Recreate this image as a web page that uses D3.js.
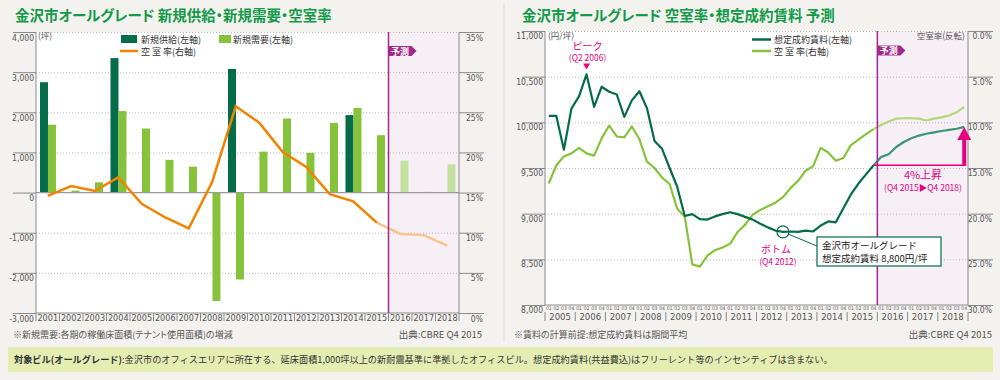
<!DOCTYPE html>
<html lang="ja">
<head>
<meta charset="utf-8">
<title>金沢市オールグレード</title>
<script src="https://cdn.jsdelivr.net/npm/d3@7"></script>
<style>
  html, body { margin: 0; padding: 0; background: #f3f2ef; }
  svg { display: block; font-family: "Noto Sans CJK JP", sans-serif; }
  .palt { font-feature-settings: "palt"; }
</style>
</head>
<body>
<svg id="chart" width="1000" height="380"></svg>
<script>
// ---- left chart: annual supply / demand / vacancy ----
const years = ['2001', '2002', '2003', '2004', '2005', '2006', '2007', '2008', '2009',
  '2010', '2011', '2012', '2013', '2014', '2015', '2016', '2017', '2018'];
const supply = [2750, 0, 0, 3350, 0, 0, 0, 0, 3080, 0, 0, 0, 0, 1930, 0, 0, 0, 0];
const demand = [1690, 50, 255, 2030, 1595, 815, 645, -2700, -2165, 1020, 1845, 990, 1735, 2110, 1430, 795, 20, 705];
const vacancy = [14.6, 15.8, 15.2, 16.9, 13.6, 11.9, 10.55, 16.35, 25.75, 23.7, 20.05, 18.2, 14.8, 13.9, 11.25, 9.85, 9.7, 8.4];
const forecastYear = '2016';
const areaTicks = [-3000, -2000, -1000, 0, 1000, 2000, 3000, 4000];
const pctTicks = [0, 5, 10, 15, 20, 25, 30, 35];

// ---- right chart: quarterly rent / vacancy ----
const qYears = ['2005', '2006', '2007', '2008', '2009', '2010', '2011', '2012', '2013',
  '2014', '2015', '2016', '2017', '2018'];
const quarters = ['01', '02', '03', '04'];
const rent = [
  10070, 10070, 9700, 10150,
  10285, 10525, 10170, 10390,
  10335, 10305, 10060, 10240,
  10340, 10155, 9795, 9710,
  9500, 9295, 8975, 8995,
  8940, 8935, 8970, 8995,
  9015, 8995, 8965, 8935,
  8890, 8850, 8815, 8800,
  8805, 8800, 8815, 8805,
  8870, 8915, 8905, 9060,
  9210, 9330, 9430, 9530,
  9620, 9650, 9730, 9785,
  9825, 9855, 9875, 9890,
  9905, 9918, 9930, 9950];
const vacancyQ = [
  16.7, 14.7, 13.75, 13.4,
  12.8, 13.4, 13.65, 11.75,
  10.35, 11.55, 11.65, 10.45,
  11.85, 14.3, 15.0, 16.05,
  16.75, 19.45, 20.3, 25.55,
  25.8, 24.6, 24.0, 23.7,
  23.3, 22.0, 21.2, 20.1,
  19.6, 19.2, 18.8, 18.2,
  17.2, 16.4, 15.3, 14.8,
  12.8, 13.3, 14.2, 13.9,
  12.5, 11.9, 11.3, 10.75,
  10.3, 9.9, 9.6, 9.55,
  9.55, 9.6, 9.8, 9.6,
  9.45, 9.25, 8.9, 8.3];
const rentTicks = [8000, 8500, 9000, 9500, 10000, 10500, 11000];
const vacTicks = [0, 5, 10, 15, 20, 25, 30];
const forecastQ = '2016Q01';
const peakQ = '2006Q02';
const bottomQ = '2012Q04';
const riseFrom = '2015Q04';
const riseTo = '2018Q04';

const NUM_FONT = '"Liberation Sans Narrow", "DejaVu Sans Condensed", sans-serif';
const GREEN_TITLE = '#139a49';
const DARK = '#046c48';
const LIGHT = '#86c33a';
const ORANGE = '#f08300';
const PURPLE = '#a2288d';
const PINK = '#e4007f';
const GRID = '#b9b9b9';
const AXIS = '#8a8a8a';
const LABEL = '#555';

const fmt = d3.formatLocale({ decimal: '.', thousands: ',', grouping: [3], currency: ['', ''], minus: '-' });
const fmtInt = fmt.format(',');

const svg = d3.select('#chart');

function styleAxis(g, dy) {
  g.attr('font-family', NUM_FONT).attr('font-size', 8.5);
  g.select('.domain').remove();
  g.selectAll('.tick line').attr('stroke', AXIS);
  g.selectAll('.tick text').attr('fill', LABEL).attr('dy', dy);
}

function forecastTag(x0, y0) {
  svg.append('path')
    .attr('d', `M${x0},${y0}h23l5,5l-5,5h-23z`)
    .attr('fill', PURPLE);
  svg.append('text')
    .attr('x', x0 + 11.5).attr('y', y0 + 8.6)
    .attr('text-anchor', 'middle').attr('font-size', 9).attr('font-weight', 700)
    .attr('fill', '#fff').text('予測');
}

// ---- titles / frame ----
svg.append('line')
  .attr('x1', 504).attr('x2', 504).attr('y1', 4).attr('y2', 342)
  .attr('stroke', '#dcdcd8');

svg.append('text').attr('class', 'palt').attr('x', 15).attr('y', 20.5)
  .attr('font-size', 14.5).attr('font-weight', 700).attr('fill', GREEN_TITLE)
  .text('金沢市オールグレード 新規供給・新規需要・空室率');
svg.append('text').attr('class', 'palt').attr('x', 522).attr('y', 20.5)
  .attr('font-size', 14.5).attr('font-weight', 700).attr('fill', GREEN_TITLE)
  .text('金沢市オールグレード 空室率・想定成約賃料 予測');

// =================== LEFT CHART ===================
(function leftChart() {
  const P = { left: 36, right: 459, top: 32, bottom: 313 };
  const x = d3.scaleBand().domain(years).range([P.left, P.right]);
  const bw = x.bandwidth();
  const xs = d3.scaleBand().domain(['supply', 'demand']).range([bw * 0.17, bw * 0.85]);
  const y = d3.scaleLinear().domain([-3000, 4000]).range([P.bottom, P.top]);
  const yR = d3.scaleLinear().domain([0, 35]).range([P.bottom, P.top]);
  const fx = x(forecastYear);

  svg.append('rect').attr('x', P.left).attr('y', P.top)
    .attr('width', P.right - P.left).attr('height', P.bottom - P.top).attr('fill', '#fff');
  svg.append('rect').attr('x', fx).attr('y', P.top)
    .attr('width', P.right - fx).attr('height', P.bottom - P.top).attr('fill', '#f6eff6');

  // dotted grid
  svg.append('g').selectAll('line')
    .data(areaTicks.filter(d => d !== 0 && d !== -3000))
    .join('line')
    .attr('x1', P.left).attr('x2', P.right)
    .attr('y1', d => y(d) + 0.5).attr('y2', d => y(d) + 0.5)
    .attr('stroke', GRID).attr('stroke-dasharray', '1,2');

  // axes
  svg.append('g').attr('transform', `translate(${P.left},0)`)
    .call(d3.axisLeft(y).tickValues(areaTicks).tickSize(23).tickPadding(-21).tickFormat(fmtInt))
    .call(g => styleAxis(g, 8));
  svg.append('g').attr('transform', `translate(${P.right},0)`)
    .call(d3.axisRight(yR).tickValues(pctTicks).tickSize(25).tickPadding(-1).tickFormat(d => d + '%'))
    .call(g => styleAxis(g, 8))
    .attr('text-anchor', 'end');

  svg.append('g').attr('transform', `translate(0,${P.bottom})`)
    .call(d3.axisBottom(x).tickSize(0))
    .call(g => {
      g.attr('font-family', NUM_FONT).attr('font-size', 9);
      g.select('.domain').remove();
      g.selectAll('.tick text').attr('fill', LABEL).attr('dy', null).attr('y', 7.5);
    });
  svg.append('g').selectAll('line')
    .data(years.map(d => x(d)).concat([P.right]))
    .join('line')
    .attr('x1', d => d).attr('x2', d => d).attr('y1', P.bottom).attr('y2', P.bottom + 8)
    .attr('stroke', AXIS);

  // bars
  const rows = years.map((yr, i) => ({ yr, supply: supply[i], demand: demand[i], fc: yr >= forecastYear }));
  const barG = svg.append('g');
  ['supply', 'demand'].forEach(key => {
    barG.selectAll(null)
      .data(rows.filter(d => d[key] !== 0))
      .join('rect')
      .attr('x', d => x(d.yr) + xs(key))
      .attr('width', xs.bandwidth())
      .attr('y', d => y(Math.max(0, d[key])))
      .attr('height', d => Math.abs(y(d[key]) - y(0)))
      .attr('fill', d => key === 'supply' ? DARK : (d.fc ? '#c4e09e' : LIGHT));
  });

  // zero line and frame
  svg.append('line').attr('x1', P.left).attr('x2', P.right)
    .attr('y1', y(0)).attr('y2', y(0)).attr('stroke', '#999').attr('stroke-width', 1.2);
  svg.append('path')
    .attr('d', `M${P.left},${P.top}V${P.bottom}H${P.right}V${P.top}`)
    .attr('fill', 'none').attr('stroke', AXIS);
  svg.append('line').attr('x1', P.left).attr('x2', P.right)
    .attr('y1', P.top + 0.5).attr('y2', P.top + 0.5)
    .attr('stroke', GRID).attr('stroke-dasharray', '1,2');

  // vacancy line
  const pts = years.map((yr, i) => ({ yr, v: vacancy[i] }));
  const line = d3.line().x(d => x(d.yr) + bw / 2).y(d => yR(d.v));
  const split = years.indexOf(forecastYear) - 1;
  svg.append('path').datum(pts.slice(split))
    .attr('d', line).attr('fill', 'none').attr('stroke', '#f9c48b').attr('stroke-width', 2.5);
  svg.append('path').datum(pts.slice(0, split + 1))
    .attr('d', line).attr('fill', 'none').attr('stroke', ORANGE).attr('stroke-width', 2.5);

  // forecast marker
  svg.append('line').attr('x1', fx).attr('x2', fx).attr('y1', P.top).attr('y2', P.bottom)
    .attr('stroke', PURPLE).attr('stroke-width', 1.5);
  forecastTag(fx, 46);

  // unit + legend
  svg.append('text').attr('x', 38).attr('y', 39).attr('font-size', 8.5).attr('fill', LABEL).text('(坪)');
  svg.append('rect').attr('x', 121).attr('y', 35).attr('width', 16).attr('height', 8).attr('fill', DARK);
  svg.append('text').attr('x', 141).attr('y', 42.5).attr('font-size', 9).attr('fill', '#333').text('新規供給(左軸)');
  svg.append('rect').attr('x', 219).attr('y', 35).attr('width', 12).attr('height', 8).attr('fill', LIGHT);
  svg.append('text').attr('x', 233).attr('y', 42.5).attr('font-size', 9).attr('fill', '#333').text('新規需要(左軸)');
  svg.append('line').attr('x1', 120).attr('x2', 138).attr('y1', 51).attr('y2', 51)
    .attr('stroke', ORANGE).attr('stroke-width', 2.5);
  svg.append('text').attr('x', 141).attr('y', 54.5).attr('font-size', 9).attr('fill', '#333').text('空 室 率(右軸)');

  // notes
  svg.append('text').attr('class', 'palt').attr('x', 13).attr('y', 337.5).attr('font-size', 9).attr('fill', LABEL)
    .text('※新規需要:各期の稼働床面積(テナント使用面積)の増減');
  svg.append('text').attr('x', 482).attr('y', 337.5).attr('text-anchor', 'end')
    .attr('font-size', 9.5).attr('fill', LABEL).text('出典:CBRE Q4 2015');
})();

// =================== RIGHT CHART ===================
(function rightChart() {
  const P = { left: 545, right: 968, top: 31, bottom: 305 };
  const keys = qYears.flatMap(yr => quarters.map(q => yr + 'Q' + q));
  const x = d3.scaleBand().domain(keys).range([P.left, P.right]);
  const bw = x.bandwidth();
  const cx = k => x(k) + bw / 2;
  const y = d3.scaleLinear().domain([8000, 11000]).range([P.bottom, P.top]);
  const yV = d3.scaleLinear().domain([0, 30]).range([P.top, P.bottom]);
  const fx = x(forecastQ);

  svg.append('rect').attr('x', P.left).attr('y', P.top)
    .attr('width', P.right - P.left).attr('height', P.bottom - P.top).attr('fill', '#fff');
  svg.append('rect').attr('x', fx).attr('y', P.top)
    .attr('width', P.right - fx).attr('height', P.bottom - P.top).attr('fill', '#f6eff6');

  svg.append('g').selectAll('line')
    .data(rentTicks.filter(d => d !== 8000))
    .join('line')
    .attr('x1', P.left).attr('x2', P.right)
    .attr('y1', d => y(d) + 0.5).attr('y2', d => y(d) + 0.5)
    .attr('stroke', GRID).attr('stroke-dasharray', '1,2');

  svg.append('g').attr('transform', `translate(${P.left},0)`)
    .call(d3.axisLeft(y).tickValues(rentTicks).tickSize(23).tickPadding(-21).tickFormat(fmtInt))
    .call(g => styleAxis(g, 7.5));
  svg.append('g').attr('transform', `translate(${P.right},0)`)
    .call(d3.axisRight(yV).tickValues(vacTicks).tickSize(25).tickPadding(-1).tickFormat(d => d.toFixed(1) + '%'))
    .call(g => styleAxis(g, 7.5))
    .attr('text-anchor', 'end');

  // quarter labels
  svg.append('g').attr('transform', `translate(0,${P.bottom})`)
    .call(d3.axisBottom(x).tickSize(0).tickFormat(k => k.slice(-2)))
    .call(g => {
      g.attr('font-family', NUM_FONT).attr('font-size', 5);
      g.select('.domain').remove();
      g.selectAll('.tick text').attr('fill', '#666').attr('dy', null).attr('y', 4.6);
    });
  // year labels + separators
  svg.append('g').selectAll('text')
    .data(qYears)
    .join('text')
    .attr('x', d => x(d + 'Q01') + bw * 2)
    .attr('y', 320)
    .attr('text-anchor', 'middle')
    .attr('font-family', NUM_FONT).attr('font-size', 9.5).attr('fill', LABEL)
    .text(d => d);
  svg.append('g').selectAll('line')
    .data(qYears.map(d => x(d + 'Q01')).concat([P.right]))
    .join('line')
    .attr('x1', d => d).attr('x2', d => d).attr('y1', P.bottom + 7).attr('y2', P.bottom + 16)
    .attr('stroke', AXIS);

  svg.append('path')
    .attr('d', `M${P.left},${P.top}V${P.bottom}H${P.right}V${P.top}`)
    .attr('fill', 'none').attr('stroke', AXIS);
  svg.append('line').attr('x1', P.left).attr('x2', P.right)
    .attr('y1', P.top + 0.5).attr('y2', P.top + 0.5)
    .attr('stroke', GRID).attr('stroke-dasharray', '1,2');

  // lines
  const split = keys.indexOf(forecastQ) - 1;
  const rentPts = keys.map((k, i) => ({ k, v: rent[i] }));
  const vacPts = keys.map((k, i) => ({ k, v: vacancyQ[i] }));
  const rentLine = d3.line().x(d => cx(d.k)).y(d => y(d.v));
  const vacLine = d3.line().x(d => cx(d.k)).y(d => yV(d.v));
  const draw = (data, gen, color) => svg.append('path').datum(data)
    .attr('d', gen).attr('fill', 'none').attr('stroke', color)
    .attr('stroke-width', 2.2).attr('stroke-linejoin', 'round');
  draw(vacPts.slice(split), vacLine, '#b3d87a');
  draw(vacPts.slice(0, split + 1), vacLine, LIGHT);
  draw(rentPts.slice(split), rentLine, '#3c9474');
  draw(rentPts.slice(0, split + 1), rentLine, DARK);

  svg.append('line').attr('x1', fx).attr('x2', fx).attr('y1', P.top).attr('y2', P.bottom)
    .attr('stroke', PURPLE).attr('stroke-width', 1.5);
  forecastTag(fx, 45.5);

  // peak annotation
  const pk = rent[keys.indexOf(peakQ)];
  const px = cx(peakQ);
  svg.append('path')
    .attr('d', `M${px - 3.5},${y(pk) - 11}h7l-3.5,6z`).attr('fill', PINK);
  svg.append('text').attr('x', px + 1).attr('y', 50).attr('text-anchor', 'middle')
    .attr('font-size', 10).attr('fill', PINK).text('ピーク');
  svg.append('text').attr('x', px + 1).attr('y', 61).attr('text-anchor', 'middle')
    .attr('font-size', 8.5).attr('fill', PINK).text('(Q2 2006)');

  // bottom annotation
  const bv = rent[keys.indexOf(bottomQ)];
  const bx = cx(bottomQ), by = y(bv);
  svg.append('line').attr('x1', bx + 5).attr('y1', by + 2).attr('x2', 817).attr('y2', 246)
    .attr('stroke', DARK).attr('stroke-width', 1);
  svg.append('circle').attr('cx', bx).attr('cy', by).attr('r', 6)
    .attr('fill', 'none').attr('stroke', DARK).attr('stroke-width', 1.2);
  svg.append('text').attr('x', bx - 7).attr('y', 252.5).attr('text-anchor', 'middle')
    .attr('font-size', 10).attr('fill', PINK).text('ボトム');
  svg.append('text').attr('x', bx - 5).attr('y', 265).attr('text-anchor', 'middle')
    .attr('font-size', 8.5).attr('fill', PINK).text('(Q4 2012)');
  svg.append('rect').attr('x', 817).attr('y', 237).attr('width', 124).attr('height', 29)
    .attr('fill', '#fff').attr('stroke', DARK).attr('stroke-width', 1.2);
  svg.append('text').attr('x', 822).attr('y', 249).attr('font-size', 9.5).attr('fill', '#222')
    .text('金沢市オールグレード');
  svg.append('text').attr('x', 822).attr('y', 262).attr('font-size', 9.5).attr('fill', '#222')
    .text('想定成約賃料 8,800円/坪');

  // rise annotation
  const r0 = y(rent[keys.indexOf(riseFrom)]);
  const r1 = y(rent[keys.indexOf(riseTo)]);
  const ax = cx(riseTo);
  svg.append('line').attr('x1', cx(riseFrom)).attr('x2', ax + 2).attr('y1', r0).attr('y2', r0)
    .attr('stroke', PINK).attr('stroke-width', 1.3);
  svg.append('path')
    .attr('d', `M${ax - 2},${r0}V${r1 + 13}h-5l7,-13l7,13h-5V${r0}z`).attr('fill', PINK);
  svg.append('text').attr('x', 923).attr('y', 178.5).attr('text-anchor', 'middle')
    .attr('font-size', 11).attr('fill', PINK).text('4%上昇');
  svg.append('text').attr('x', 923).attr('y', 190.5).attr('text-anchor', 'middle')
    .attr('font-size', 8.5).attr('fill', PINK).text('(Q4 2015▶Q4 2018)');

  // units + legend
  svg.append('text').attr('x', 548).attr('y', 39).attr('font-size', 8.5).attr('fill', LABEL).text('(円/坪)');
  svg.append('text').attr('x', 965).attr('y', 39).attr('text-anchor', 'end')
    .attr('font-size', 8.5).attr('fill', LABEL).text('空室率(反転)');
  svg.append('line').attr('x1', 752).attr('x2', 771).attr('y1', 39.5).attr('y2', 39.5)
    .attr('stroke', DARK).attr('stroke-width', 2.5);
  svg.append('text').attr('x', 774).attr('y', 43).attr('font-size', 9).attr('fill', '#333').text('想定成約賃料(左軸)');
  svg.append('line').attr('x1', 752).attr('x2', 771).attr('y1', 51).attr('y2', 51)
    .attr('stroke', LIGHT).attr('stroke-width', 2.5);
  svg.append('text').attr('x', 774).attr('y', 54.5).attr('font-size', 9).attr('fill', '#333').text('空 室 率(右軸)');

  svg.append('text').attr('class', 'palt').attr('x', 514).attr('y', 337.5).attr('font-size', 9).attr('fill', LABEL)
    .text('※賃料の計算前提:想定成約賃料は期間平均');
  svg.append('text').attr('x', 992).attr('y', 337.5).attr('text-anchor', 'end')
    .attr('font-size', 9.5).attr('fill', LABEL).text('出典:CBRE Q4 2015');
})();

// ---- bottom definition box ----
svg.append('rect').attr('x', 8).attr('y', 347).attr('width', 985).attr('height', 25).attr('fill', '#e4eeb3');
const def = svg.append('text').attr('x', 14).attr('y', 362.5).attr('font-size', 9.2).attr('fill', '#333');
def.append('tspan').attr('font-weight', 700).text('対象ビル(オールグレード)');
def.append('tspan').text(':金沢市のオフィスエリアに所在する、延床面積1,000坪以上の新耐震基準に準拠したオフィスビル。想定成約賃料(共益費込)はフリーレント等のインセンティブは含まない。');
</script>
</body>
</html>
